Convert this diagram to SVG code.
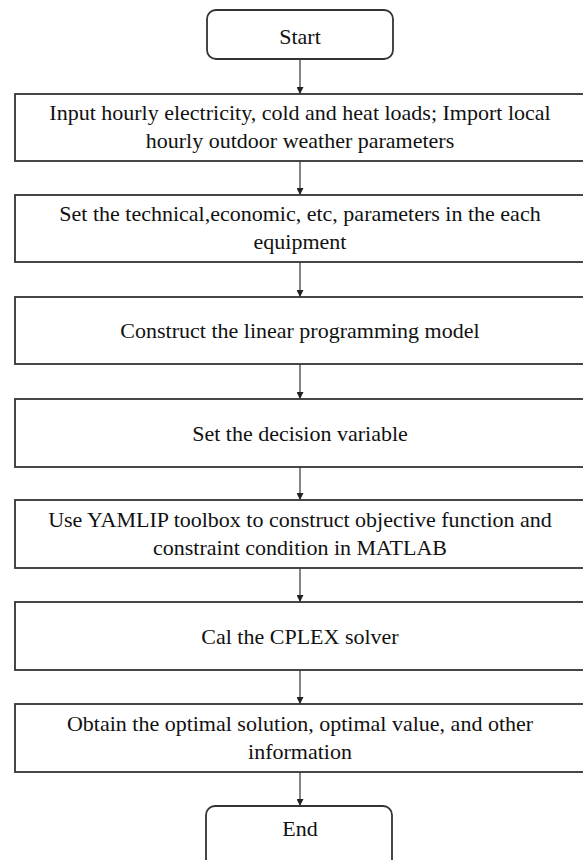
<svg xmlns="http://www.w3.org/2000/svg" width="583" height="860" viewBox="0 0 583 860">
<defs>
<marker id="ah" viewBox="0 0 10 10" refX="10" refY="5" markerWidth="7" markerHeight="7" markerUnits="userSpaceOnUse" orient="auto">
<path d="M0,0 L10,5 L0,10 z" fill="#222"/>
</marker>
<style>
.box{fill:#fff;stroke:#333;stroke-width:1.8}
.t{font-family:"Liberation Serif","Times New Roman",serif;font-size:22px;fill:#111;text-anchor:middle}
.c{stroke:#333;stroke-width:1.2;fill:none}
</style>
</defs>
<rect x="0" y="0" width="583" height="860" fill="#fff"/>
<g id="connectors">
<line class="c" x1="300" y1="59" x2="300" y2="94" marker-end="url(#ah)"/>
<line class="c" x1="300" y1="161" x2="300" y2="195" marker-end="url(#ah)"/>
<line class="c" x1="300" y1="262" x2="300" y2="297" marker-end="url(#ah)"/>
<line class="c" x1="300" y1="364" x2="300" y2="399" marker-end="url(#ah)"/>
<line class="c" x1="300" y1="467" x2="300" y2="500" marker-end="url(#ah)"/>
<line class="c" x1="300" y1="568" x2="300" y2="602" marker-end="url(#ah)"/>
<line class="c" x1="300" y1="670" x2="300" y2="704" marker-end="url(#ah)"/>
<line class="c" x1="300" y1="772" x2="300" y2="806" marker-end="url(#ah)"/>
</g>
<g id="start">
<rect class="box" x="207" y="10" width="186" height="49" rx="9"/>
<text class="t" x="300" y="44">Start</text>
</g>
<g id="n1">
<rect class="box" x="15" y="94" width="575" height="67"/>
<text class="t" x="300" y="120">Input hourly electricity, cold and heat loads; Import local</text>
<text class="t" x="300" y="148">hourly outdoor weather parameters</text>
</g>
<g id="n2">
<rect class="box" x="15" y="195" width="575" height="67"/>
<text class="t" x="300" y="221">Set the technical,economic, etc, parameters in the each</text>
<text class="t" x="300" y="249">equipment</text>
</g>
<g id="n3">
<rect class="box" x="15" y="297" width="575" height="67"/>
<text class="t" x="300" y="338">Construct the linear programming model</text>
</g>
<g id="n4">
<rect class="box" x="15" y="399" width="575" height="68"/>
<text class="t" x="300" y="441">Set the decision variable</text>
</g>
<g id="n5">
<rect class="box" x="15" y="500" width="575" height="68"/>
<text class="t" x="300" y="527">Use YAMLIP toolbox to construct objective function and</text>
<text class="t" x="300" y="555">constraint condition in MATLAB</text>
</g>
<g id="n6">
<rect class="box" x="15" y="602" width="575" height="68"/>
<text class="t" x="300" y="644">Cal the CPLEX solver</text>
</g>
<g id="n7">
<rect class="box" x="15" y="704" width="575" height="68"/>
<text class="t" x="300" y="731">Obtain the optimal solution, optimal value, and other</text>
<text class="t" x="300" y="759">information</text>
</g>
<g id="end">
<rect class="box" x="206" y="806" width="186" height="70" rx="9"/>
<text class="t" x="300" y="836">End</text>
</g>
</svg>
